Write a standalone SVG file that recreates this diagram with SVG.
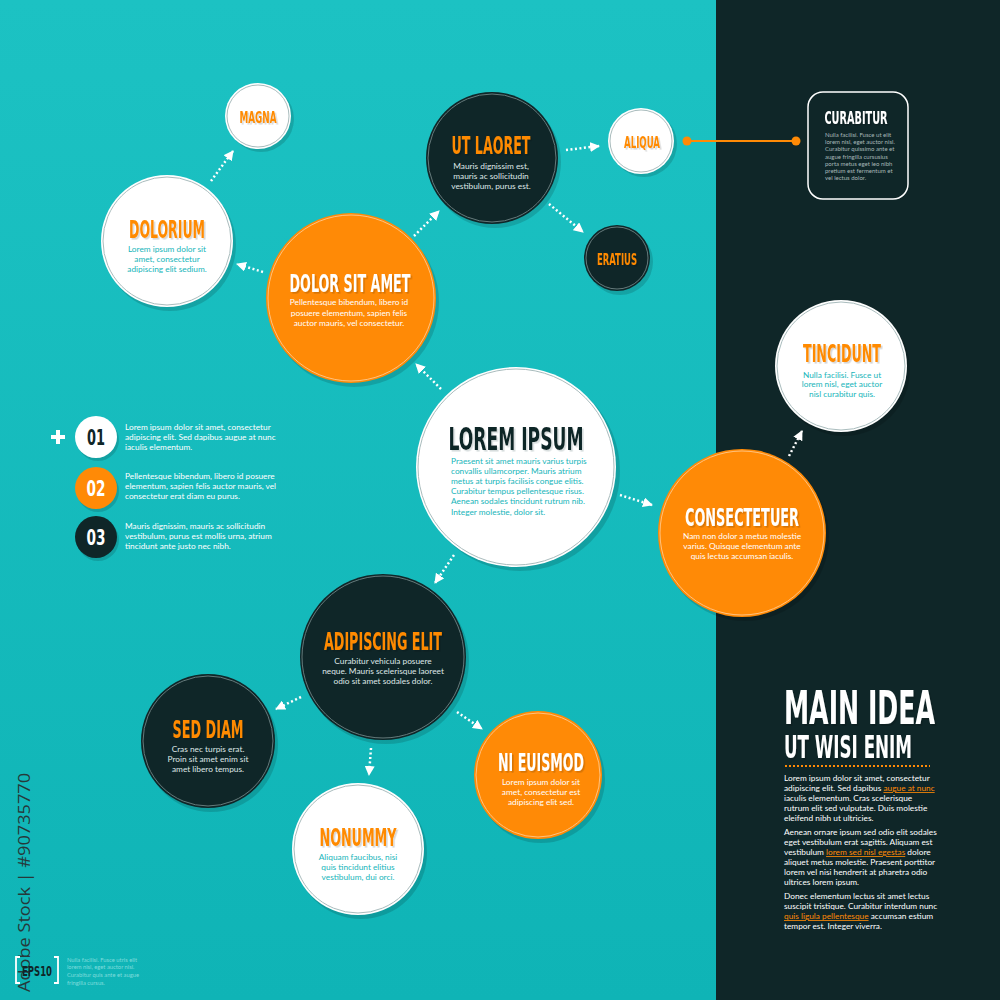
<svg xmlns="http://www.w3.org/2000/svg" width="1000" height="1000" viewBox="0 0 1000 1000">
<defs>
<linearGradient id="bg" x1="0" y1="0" x2="0" y2="1"><stop offset="0" stop-color="#1CC2C3"/><stop offset="1" stop-color="#0FB4B6"/></linearGradient>
<marker id="ah" viewBox="0 0 10 10" refX="9" refY="5" markerWidth="10" markerHeight="10" markerUnits="userSpaceOnUse" orient="auto"><path d="M0,0 L10,5 L0,10 z" fill="#fff"/></marker>
<filter id="ts" x="-10%" y="-30%" width="130%" height="170%"><feDropShadow dx="1.6" dy="1.6" stdDeviation="0" flood-color="#000" flood-opacity="0.16"/></filter>
<filter id="tsd" x="-10%" y="-30%" width="130%" height="170%"><feDropShadow dx="1.6" dy="1.6" stdDeviation="0" flood-color="#8a9c9d" flood-opacity="0.35"/></filter>
</defs>
<style>
.t{font-family:"Liberation Sans Narrow","DejaVu Sans Condensed","Liberation Sans",sans-serif;font-weight:bold;text-anchor:middle;filter:url(#ts)}
.b{font-family:Lato,"Open Sans",sans-serif;font-size:8.3px;text-anchor:middle}
.l{font-family:Lato,"Open Sans",sans-serif;font-size:8.3px}
.sh{fill:#000;opacity:.14}
.cw{fill:#fff}.rw{fill:none;stroke:#a9bcbd;stroke-width:1}
.co{fill:#FF8A06}.ro{fill:none;stroke:#ffc27e;stroke-width:1}
.cd{fill:#0F2628}.rd{fill:none;stroke:#657a7b;stroke-width:1}
.or{fill:#FF8A06}.wt{fill:#fff}.dk{fill:#0F2628}.tl{fill:#17B5BA}.lt{fill:#dfe7e7}
.arr{stroke:#fff;stroke-width:2.5;stroke-dasharray:2 2.5;fill:none;marker-end:url(#ah)}
.lk{fill:#FF8A06;text-decoration:underline}
</style>
<rect x="0" y="0" width="1000" height="1000" fill="url(#bg)"/>
<rect x="716" y="0" width="284" height="1000" fill="#0F2628"/>

<g id="connectors">
<path class="arr" d="M211,181 L233,151"/>
<path class="arr" d="M263,272 L237,264"/>
<path class="arr" d="M414,236 L439,211"/>
<path class="arr" d="M566,150 L599,146"/>
<path class="arr" d="M549,204 L583,232"/>
<path class="arr" d="M441,389 L416,364"/>
<path class="arr" d="M620,495 L652,505"/>
<path class="arr" d="M454,555 L435,583"/>
<path class="arr" d="M789,456 L802,431"/>
<path class="arr" d="M301,697 L276,709"/>
<path class="arr" d="M371,748 L369,775"/>
<path class="arr" d="M457,712 L482,729"/>
<line x1="687" y1="141" x2="796" y2="141" stroke="#FF8A06" stroke-width="2"/>
<circle cx="687" cy="141" r="4.5" fill="#FF8A06"/>
<circle cx="796" cy="141" r="4.5" fill="#FF8A06"/>
</g>

<g id="magna">
<circle class="sh" cx="261" cy="119" r="33"/><circle class="cw" cx="258" cy="116" r="33"/><circle class="rw" cx="258" cy="116" r="31"/>
<text class="t or" x="258" y="123" font-size="16" textLength="37" lengthAdjust="spacingAndGlyphs">MAGNA</text>
</g>

<g id="dolorium">
<circle class="sh" cx="170" cy="245" r="66"/><circle class="cw" cx="167" cy="241" r="66"/><circle class="rw" cx="167" cy="241" r="64"/>
<text class="t or" x="167" y="238" font-size="24" textLength="76" lengthAdjust="spacingAndGlyphs">DOLORIUM</text>
<text class="b tl" x="167" y="252">Lorem ipsum dolor sit</text>
<text class="b tl" x="167" y="262">amet, consectetur</text>
<text class="b tl" x="167" y="272">adipiscing elit sedium.</text>
</g>

<g id="dolor-sit-amet">
<circle class="sh" cx="354" cy="302" r="85"/><circle class="co" cx="351" cy="298" r="85"/><circle class="ro" cx="351" cy="298" r="83"/>
<text class="t wt" x="350" y="292" font-size="24" textLength="121" lengthAdjust="spacingAndGlyphs">DOLOR SIT AMET</text>
<text class="b wt" x="349" y="305">Pellentesque bibendum, libero id</text>
<text class="b wt" x="349" y="316">posuere elementum, sapien felis</text>
<text class="b wt" x="349" y="326">auctor mauris, vel consectetur.</text>
</g>

<g id="ut-laoret">
<circle class="sh" cx="495" cy="162" r="66"/><circle class="cd" cx="492" cy="158" r="66"/><circle class="rd" cx="492" cy="158" r="64"/>
<text class="t or" x="491" y="154" font-size="24" textLength="79" lengthAdjust="spacingAndGlyphs">UT LAORET</text>
<text class="b lt" x="491" y="169">Mauris dignissim est,</text>
<text class="b lt" x="491" y="179">mauris ac sollicitudin</text>
<text class="b lt" x="491" y="189">vestibulum, purus est.</text>
</g>

<g id="aliqua">
<circle class="sh" cx="644" cy="144" r="33"/><circle class="cw" cx="641" cy="141" r="33"/><circle class="rw" cx="641" cy="141" r="31"/>
<text class="t or" x="642" y="148" font-size="16" textLength="36" lengthAdjust="spacingAndGlyphs">ALIQUA</text>
</g>

<g id="eratius">
<circle class="sh" cx="620" cy="262" r="33"/><circle class="cd" cx="617" cy="258" r="33"/><circle class="rd" cx="617" cy="258" r="31"/>
<text class="t or" x="617" y="265" font-size="16" textLength="40" lengthAdjust="spacingAndGlyphs">ERATIUS</text>
</g>

<g id="curabitur">
<rect x="808" y="92" width="100" height="107" rx="15" fill="#0F2628" stroke="#fff" stroke-width="1.5"/>
<text class="t wt" x="856" y="124" font-size="17" textLength="63" lengthAdjust="spacingAndGlyphs">CURABITUR</text>
<g class="l" style="font-size:6px;fill:#a8b8b8">
<text x="825" y="137">Nulla facilisi. Fusce ut elit</text>
<text x="825" y="144">lorem nisl, eget auctor nisl.</text>
<text x="825" y="151">Curabitur quissimo ante et</text>
<text x="825" y="159">augue fringilla cursusius</text>
<text x="825" y="166">porta metus eget leo nibh</text>
<text x="825" y="173">pretium est fermentum et</text>
<text x="825" y="180">vel lectus dolor.</text>
</g>
</g>

<g id="lorem-ipsum">
<circle class="sh" cx="520" cy="471" r="100"/><circle class="cw" cx="516" cy="467" r="100"/><circle class="rw" cx="516" cy="467" r="98"/>
<text class="t dk" x="516" y="450" font-size="32" textLength="135" lengthAdjust="spacingAndGlyphs" style="filter:url(#tsd)">LOREM IPSUM</text>
<g class="l tl">
<text x="451" y="464">Praesent sit amet mauris varius turpis</text>
<text x="451" y="474">convallis ullamcorper. Mauris atrium</text>
<text x="451" y="484">metus at turpis facilisis congue elitis.</text>
<text x="451" y="494">Curabitur tempus pellentesque risus.</text>
<text x="451" y="504">Aenean sodales tincidunt rutrum nib.</text>
<text x="451" y="515">Integer molestie, dolor sit.</text>
</g>
</g>

<g id="list">
<path d="M51,437 H65 M58,430 V444" stroke="#fff" stroke-width="4"/>
<circle class="sh" cx="98" cy="440" r="21"/><circle class="cw" cx="96" cy="437" r="21"/>
<text class="t dk" x="96" y="445" font-size="22" textLength="18" lengthAdjust="spacingAndGlyphs" style="filter:none">01</text>
<circle class="sh" cx="98" cy="491" r="21"/><circle class="co" cx="96" cy="488" r="21"/>
<text class="t wt" x="96" y="496" font-size="22" textLength="19" lengthAdjust="spacingAndGlyphs" style="filter:none">02</text>
<circle class="sh" cx="98" cy="540" r="21"/><circle class="cd" cx="96" cy="537" r="21"/>
<text class="t wt" x="96" y="545" font-size="22" textLength="19" lengthAdjust="spacingAndGlyphs" style="filter:none">03</text>
<g class="l wt">
<text x="125" y="430">Lorem ipsum dolor sit amet, consectetur</text>
<text x="125" y="440">adipiscing elit. Sed dapibus augue at nunc</text>
<text x="125" y="450">iaculis elementum.</text>
<text x="125" y="479">Pellentesque bibendum, libero id posuere</text>
<text x="125" y="489">elementum, sapien felis auctor mauris, vel</text>
<text x="125" y="499">consectetur erat diam eu purus.</text>
<text x="125" y="529">Mauris dignissim, mauris ac sollicitudin</text>
<text x="125" y="539">vestibulum, purus est mollis urna, atrium</text>
<text x="125" y="549">tincidunt ante justo nec nibh.</text>
</g>
</g>

<g id="tincidunt">
<circle class="sh" cx="844" cy="370" r="66"/><circle class="cw" cx="841" cy="366" r="66"/><circle class="rw" cx="841" cy="366" r="64"/>
<text class="t or" x="842" y="362" font-size="24" textLength="78" lengthAdjust="spacingAndGlyphs">TINCIDUNT</text>
<text class="b tl" x="842" y="378">Nulla facilisi. Fusce ut</text>
<text class="b tl" x="842" y="387">lorem nisl, eget auctor</text>
<text class="b tl" x="842" y="397">nisl curabitur quis.</text>
</g>

<g id="consectetuer">
<circle class="sh" cx="745" cy="537" r="84"/><circle class="co" cx="742" cy="533" r="84"/><circle class="ro" cx="742" cy="533" r="82"/>
<text class="t wt" x="742" y="526" font-size="24" textLength="114" lengthAdjust="spacingAndGlyphs">CONSECTETUER</text>
<text class="b wt" x="742" y="539">Nam non dolor a metus molestie</text>
<text class="b wt" x="742" y="549">varius. Quisque elementum ante</text>
<text class="b wt" x="742" y="559">quis lectus accumsan iaculis.</text>
</g>

<g id="adipiscing-elit">
<circle class="sh" cx="386" cy="661" r="83"/><circle class="cd" cx="383" cy="657" r="83"/><circle class="rd" cx="383" cy="657" r="81"/>
<text class="t or" x="383" y="650" font-size="24" textLength="118" lengthAdjust="spacingAndGlyphs">ADIPISCING ELIT</text>
<text class="b lt" x="383" y="664">Curabitur vehicula posuere</text>
<text class="b lt" x="383" y="674">neque. Mauris scelerisque laoreet</text>
<text class="b lt" x="383" y="684">odio sit amet sodales dolor.</text>
</g>

<g id="sed-diam">
<circle class="sh" cx="211" cy="745" r="67"/><circle class="cd" cx="208" cy="741" r="67"/><circle class="rd" cx="208" cy="741" r="65"/>
<text class="t or" x="208" y="738" font-size="24" textLength="71" lengthAdjust="spacingAndGlyphs">SED DIAM</text>
<text class="b lt" x="208" y="752">Cras nec turpis erat.</text>
<text class="b lt" x="208" y="762">Proin sit amet enim sit</text>
<text class="b lt" x="208" y="772">amet libero tempus.</text>
</g>

<g id="ni-euismod">
<circle class="sh" cx="541" cy="779" r="64"/><circle class="co" cx="538" cy="775" r="64"/><circle class="ro" cx="538" cy="775" r="62"/>
<text class="t wt" x="541" y="771" font-size="24" textLength="86" lengthAdjust="spacingAndGlyphs">NI EUISMOD</text>
<text class="b wt" x="541" y="785">Lorem ipsum dolor sit</text>
<text class="b wt" x="541" y="795">amet, consectetur est</text>
<text class="b wt" x="541" y="805">adipiscing elit sed.</text>
</g>

<g id="nonummy">
<circle class="sh" cx="361" cy="853" r="66"/><circle class="cw" cx="358" cy="849" r="66"/><circle class="rw" cx="358" cy="849" r="64"/>
<text class="t or" x="358" y="846" font-size="24" textLength="77" lengthAdjust="spacingAndGlyphs">NONUMMY</text>
<text class="b tl" x="358" y="860">Aliquam faucibus, nisi</text>
<text class="b tl" x="358" y="870">quis tincidunt elitius</text>
<text class="b tl" x="358" y="880">vestibulum, dui orci.</text>
</g>

<g id="main-idea">
<text class="t wt" transform="translate(784,724) scale(1,1.3)" x="0" y="0" font-size="36" textLength="151" lengthAdjust="spacingAndGlyphs" style="text-anchor:start">MAIN IDEA</text>
<text class="t wt" transform="translate(784,758) scale(1,1.3)" x="0" y="0" font-size="24" textLength="128" lengthAdjust="spacingAndGlyphs" style="text-anchor:start">UT WISI ENIM</text>
<line x1="785" y1="766" x2="930" y2="766" stroke="#FF8A06" stroke-width="2" stroke-dasharray="2 2"/>
<g class="l wt">
<text x="784" y="781">Lorem ipsum dolor sit amet, consectetur</text>
<text x="784" y="791">adipiscing elit. Sed dapibus <tspan class="lk">augue at nunc</tspan></text>
<text x="784" y="801">iaculis elementum. Cras scelerisque</text>
<text x="784" y="811">rutrum elit sed vulputate. Duis molestie</text>
<text x="784" y="821">eleifend nibh ut ultricies.</text>
<text x="784" y="835">Aenean ornare ipsum sed odio elit sodales</text>
<text x="784" y="845">eget vestibulum erat sagittis. Aliquam est</text>
<text x="784" y="855">vestibulum <tspan class="lk">lorem sed nisl egestas</tspan> dolore</text>
<text x="784" y="865">aliquet metus molestie. Praesent porttitor</text>
<text x="784" y="875">lorem vel nisi hendrerit at pharetra odio</text>
<text x="784" y="885">ultrices lorem ipsum.</text>
<text x="784" y="899">Donec elementum lectus sit amet lectus</text>
<text x="784" y="909">suscipit tristique. Curabitur interdum nunc</text>
<text x="784" y="919"><tspan class="lk">quis ligula pellentesque</tspan> accumsan estium</text>
<text x="784" y="929">tempor est. Integer viverra.</text>
</g>
</g>

<g id="footer">
<text x="30" y="992" transform="rotate(-90 30 992)" font-family="'Open Sans','Noto Sans',sans-serif" font-size="17" fill="#26393a" textLength="219" lengthAdjust="spacingAndGlyphs">Adobe Stock | #90735770</text>
<path d="M20,957 H16 V983 H20 M54,957 H58 V983 H54" stroke="#fff" stroke-width="1.8" fill="none"/>
<text class="t dk" x="37" y="976" font-size="14" textLength="30" lengthAdjust="spacingAndGlyphs" style="filter:none">EPS10</text>
<g class="l" style="font-size:5.8px;fill:#7fdcdc">
<text x="67" y="962">Nulla facilisi. Fusce utris elit</text>
<text x="67" y="969">lorem nisl, eget auctor nisl.</text>
<text x="67" y="977">Curabitur quis ante et augue</text>
<text x="67" y="985">fringilla cursus.</text>
</g>
</g>
</svg>
